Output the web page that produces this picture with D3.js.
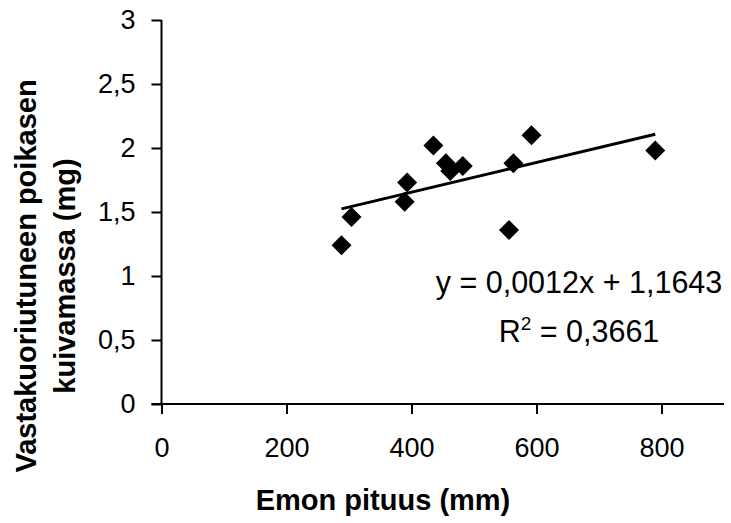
<!DOCTYPE html>
<html>
<head>
<meta charset="utf-8">
<script src="https://cdn.jsdelivr.net/npm/d3@7"></script>
<style>
  html, body { margin: 0; padding: 0; background: #fff; }
  svg { display: block; }
  text { font-family: "Liberation Sans", Arial, sans-serif; fill: #000; }
</style>
</head>
<body>
<svg id="chart" width="731" height="523"></svg>
<script>
// ---- data ----
const motherLength = [288, 304, 393, 389, 435, 455, 462, 482, 563, 556, 592, 790];
const chickDryMass = [1.24, 1.46, 1.73, 1.58, 2.02, 1.88, 1.82, 1.86, 1.88, 1.36, 2.10, 1.98];
const xTicks = [0, 200, 400, 600, 800];
const yTicks = [0, 0.5, 1, 1.5, 2, 2.5, 3];
const equationText = "y = 0,0012x + 1,1643";
const r2Value = "0,3661";
const xTitle = "Emon pituus (mm)";
const yTitleLines = ["Vastakuoriutuneen poikasen", "kuivamassa (mg)"];

// ---- layout ----
const svg = d3.select("#chart");
const x = d3.scaleLinear().domain([0, 900]).range([161.5, 724]);
const y = d3.scaleLinear().domain([0, 3]).range([404, 20]);
const fmt = d => String(d).replace(".", ",");

// axes
const xAxis = svg.append("g")
  .attr("transform", `translate(0,${y(0)})`)
  .call(d3.axisBottom(x).tickValues(xTicks).tickSize(10).tickPadding(24).tickFormat(fmt));
const yAxis = svg.append("g")
  .attr("transform", `translate(${x(0)},0)`)
  .call(d3.axisLeft(y).tickValues(yTicks).tickSize(10).tickPadding(16).tickFormat(fmt));

[xAxis, yAxis].forEach(g => {
  g.select(".domain").attr("stroke", "#000").attr("stroke-width", 2);
  g.selectAll(".tick line").attr("stroke", "#000").attr("stroke-width", 2);
  g.selectAll(".tick text").attr("font-size", 27).attr("font-family", "Liberation Sans, Arial, sans-serif").attr("fill", "#000");
});
xAxis.select(".domain").attr("d", `M${x(0) - 10},0H${x(900)}`);
yAxis.select(".domain").attr("d", `M0,${y(3)}V${y(0)}`);

// trendline (least squares fit of the data)
const n = motherLength.length;
const mx = d3.mean(motherLength), my = d3.mean(chickDryMass);
let sxy = 0, sxx = 0;
for (let i = 0; i < n; i++) {
  sxy += (motherLength[i] - mx) * (chickDryMass[i] - my);
  sxx += (motherLength[i] - mx) ** 2;
}
const slope = sxy / sxx, intercept = my - slope * mx;
const [xmin, xmax] = d3.extent(motherLength);
svg.append("line")
  .attr("x1", x(xmin)).attr("y1", y(slope * xmin + intercept))
  .attr("x2", x(xmax)).attr("y2", y(slope * xmax + intercept))
  .attr("stroke", "#000").attr("stroke-width", 3);

// points (diamonds)
const r = 10;
svg.append("g").selectAll("path")
  .data(motherLength.map((v, i) => [v, chickDryMass[i]]))
  .join("path")
  .attr("transform", d => `translate(${x(d[0])},${y(d[1])})`)
  .attr("d", `M0,${-r}L${r},0L0,${r}L${-r},0Z`)
  .attr("fill", "#000");

// equation labels
const eq = svg.append("g").attr("font-size", 30.5);
eq.append("text").attr("x", 579).attr("y", 293).attr("text-anchor", "middle").text(equationText);
const r2 = eq.append("text").attr("x", 579).attr("y", 342).attr("text-anchor", "middle");
r2.append("tspan").text("R");
r2.append("tspan").attr("dy", -12).attr("font-size", 19).text("2");
r2.append("tspan").attr("dy", 12).text(" = " + r2Value);

// axis titles
svg.append("text")
  .attr("x", 383).attr("y", 510)
  .attr("text-anchor", "middle").attr("font-weight", "bold").attr("font-size", 29)
  .text(xTitle);

const yt = svg.append("text")
  .attr("transform", "translate(36,276) rotate(-90)")
  .attr("text-anchor", "middle").attr("font-weight", "bold").attr("font-size", 29);
yTitleLines.forEach((l, i) => yt.append("tspan").attr("x", 0).attr("dy", i === 0 ? 0 : 39).text(l));
</script>
</body>
</html>
